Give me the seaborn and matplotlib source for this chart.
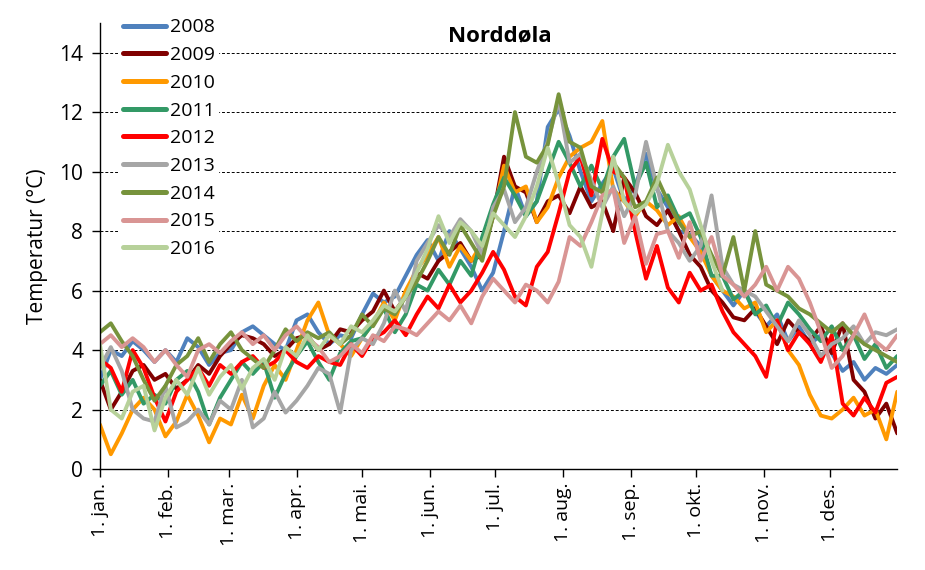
import numpy as np
import pandas as pd
import matplotlib
matplotlib.use("Agg")
import matplotlib.pyplot as plt
import seaborn as sns

days = list(range(0, 366, 5))

t2008 = [3.0, 4.0, 3.8, 4.3, 4.0, 3.6, 4.0, 3.6, 4.4, 4.1, 3.5, 3.9, 4.0, 4.6, 4.8,
         4.5, 4.2, 4.0, 5.0, 5.2, 4.6, 4.2, 4.5, 4.4, 5.2, 5.9, 5.6, 5.8, 6.5, 7.2,
         7.7, 7.0, 8.0, 7.4, 6.8, 6.0, 6.6, 8.0, 9.5, 8.5, 9.0, 11.5, 12.1, 11.2, 10.0,
         9.0, 9.6, 10.1, 9.0, 9.5, 10.6, 9.4, 8.8, 8.0, 7.9, 7.5, 6.5, 6.0, 5.5, 6.0,
         5.3, 4.8, 5.2, 4.3, 4.8, 4.2, 4.5, 3.9, 3.3, 3.6, 3.0, 3.4, 3.2, 3.5]
t2009 = [3.0, 2.0, 2.6, 3.3, 3.5, 3.0, 3.2, 2.7, 3.0, 3.5, 3.2, 3.8, 4.2, 4.5, 4.4,
         4.2, 3.8, 4.0, 4.4, 4.5, 4.0, 4.2, 4.7, 4.6, 5.0, 5.3, 6.0, 5.3, 5.8, 6.6,
         6.4, 7.0, 7.3, 7.6, 7.0, 7.2, 8.5, 10.5, 9.5, 9.3, 8.3, 9.0, 9.2, 8.6, 9.5,
         8.8, 9.0, 8.0, 9.8, 9.3, 8.5, 8.2, 8.7, 8.0, 7.2, 6.8, 6.0, 5.6, 5.1, 5.0,
         5.4, 4.8, 4.2, 5.0, 4.6, 4.3, 4.8, 3.9, 4.9, 3.0, 2.6, 1.7, 2.2, 1.2]
t2010 = [1.5, 0.5, 1.2, 2.0, 2.4, 2.0, 1.1, 1.6, 2.5, 1.8, 0.9, 1.7, 1.5, 2.5, 1.7,
         2.8, 3.5, 3.0, 4.0, 5.0, 5.6, 4.5, 4.2, 3.8, 4.4, 4.9, 5.6, 5.0, 6.0, 6.7,
         7.2, 7.8, 6.8, 7.5, 7.0, 7.6, 8.5, 10.2, 9.3, 9.5, 8.3, 8.8, 9.8, 10.5, 10.8,
         11.0, 11.7, 9.4, 9.0, 8.5, 9.0, 8.7, 8.2, 8.5, 7.8, 7.3, 6.5, 6.0, 5.8, 5.4,
         5.6, 4.6, 5.0, 4.0, 3.5, 2.5, 1.8, 1.7, 2.0, 2.4, 1.8, 2.0, 1.0, 2.6]
t2011 = [2.8, 3.3, 2.5, 3.0, 2.2, 2.5, 2.2, 3.0, 3.3, 2.6, 1.5, 2.4, 3.0, 3.6, 3.2,
         3.6, 2.4, 3.2, 3.8, 4.3, 3.6, 3.0, 3.9, 4.3, 4.4, 4.9, 5.4, 4.6, 5.2, 6.2,
         6.0, 6.7, 6.2, 7.0, 6.5, 7.8, 8.9, 9.8, 9.2, 8.5, 9.0, 10.0, 11.0, 10.3, 9.5,
         10.2, 9.4, 10.5, 11.1, 9.5, 10.3, 8.8, 9.2, 8.4, 8.6, 7.8, 6.5, 6.5, 5.7, 6.0,
         5.2, 5.5, 4.8, 5.6, 5.2, 4.7, 4.3, 4.8, 4.0, 4.5, 3.7, 4.2, 3.4, 3.8]
t2012 = [3.7, 3.4, 2.6, 4.0, 3.4, 2.4, 1.6, 2.6, 3.0, 3.4, 2.8, 3.5, 3.2, 3.6, 3.8,
         3.4, 3.6, 4.0, 3.6, 3.4, 3.8, 3.6, 3.5, 4.2, 3.8, 4.4, 4.6, 5.0, 4.5, 5.2,
         5.8, 5.4, 6.2, 5.6, 6.0, 6.6, 7.3, 6.7, 5.8, 5.5, 6.8, 7.3, 8.6, 10.0, 10.5,
         9.2, 11.1, 10.0, 9.8, 8.0, 6.4, 7.5, 6.1, 5.6, 6.6, 6.0, 6.2, 5.3, 4.6, 4.2,
         3.8, 3.1, 5.0, 4.0, 4.6, 4.2, 3.6, 4.5, 2.2, 1.8, 2.4, 1.9, 2.9, 3.1]
t2013 = [3.4, 4.1, 3.3, 2.0, 1.7, 1.6, 2.8, 1.4, 1.6, 2.0, 1.5, 2.3, 2.0, 3.0, 1.4,
         1.7, 2.6, 1.9, 2.3, 2.8, 3.4, 3.2, 1.9, 4.0, 4.4, 4.2, 4.9, 6.0, 5.3, 7.0,
         7.6, 8.2, 7.8, 8.4, 8.0, 7.2, 8.8, 9.4, 8.3, 8.8, 10.0, 11.0, 12.4, 10.3, 10.6,
         9.7, 8.8, 9.5, 8.5, 9.2, 11.0, 9.5, 8.0, 7.6, 7.0, 7.5, 9.2, 6.8, 6.2, 6.0,
         5.8, 5.3, 4.8, 4.3, 5.0, 4.5, 3.8, 4.2, 4.4, 4.8, 4.2, 4.6, 4.5, 4.7]
t2014 = [4.6, 4.9, 4.3, 3.8, 3.0, 2.3, 2.8, 3.5, 3.8, 4.4, 3.6, 4.2, 4.6, 4.0, 3.7,
         3.4, 4.0, 4.7, 4.3, 4.6, 4.4, 4.6, 4.2, 4.5, 5.2, 4.8, 5.4, 5.2, 5.8, 6.3,
         7.0, 7.8, 7.2, 8.2, 7.6, 7.0, 8.5, 9.5, 12.0, 10.5, 10.3, 10.9, 12.6, 11.0, 10.8,
         9.5, 9.3, 10.3, 9.8, 8.8, 9.0, 9.8, 9.0, 8.3, 7.8, 8.0, 7.2, 6.5, 7.8, 6.0,
         8.0, 6.2, 6.0, 5.8, 5.4, 5.2, 4.9, 4.6, 4.9, 4.5, 4.2, 4.0, 3.8, 3.6]
t2015 = [4.2, 4.5, 4.1, 4.4, 4.1, 3.6, 4.0, 3.5, 3.1, 4.0, 4.2, 3.9, 4.3, 4.6, 4.2,
         4.5, 4.0, 4.5, 4.8, 4.4, 4.1, 3.6, 3.8, 4.2, 3.9, 4.5, 4.3, 4.8, 4.7, 4.5,
         4.9, 5.3, 5.0, 5.5, 4.9, 5.8, 6.4, 6.0, 5.6, 6.2, 6.0, 5.6, 6.3, 7.8, 7.5,
         8.3, 9.2, 9.4, 7.6, 8.5, 6.9, 7.9, 8.0, 7.1, 8.3, 7.0, 7.8, 6.5, 6.2, 5.8,
         6.2, 6.8, 6.0, 6.8, 6.4, 5.6, 4.6, 3.4, 3.8, 4.5, 5.2, 4.3, 4.0, 4.5]
t2016 = [4.2, 2.0, 1.7, 2.6, 2.8, 1.3, 2.4, 3.0, 2.5, 3.4, 2.5, 3.1, 3.5, 2.7, 3.4,
         3.7, 3.0, 4.1, 3.8, 4.5, 4.0, 4.5, 4.2, 4.8, 4.6, 5.0, 5.5, 5.3, 5.8, 6.6,
         7.4, 8.5, 7.6, 8.3, 8.0, 7.5, 8.6, 8.2, 7.8, 8.5, 9.5, 10.8, 9.6, 8.2, 7.8,
         6.8, 8.6, 10.5, 9.0, 8.6, 8.9, 9.6, 10.9, 10.0, 9.4, 8.2, 7.0, 6.0]

series = {"2008": t2008, "2009": t2009, "2010": t2010, "2011": t2011, "2012": t2012,
          "2013": t2013, "2014": t2014, "2015": t2015, "2016": t2016}
colors = ["#4F81BD", "#800000", "#FF9900", "#339966", "#FF0000",
          "#A6A6A6", "#77933C", "#D99594", "#B7D19A"]

month_days = [0, 31, 59, 90, 120, 151, 181, 212, 243, 273, 304, 334]
month_labels = ["1. jan.", "1. feb.", "1. mar.", "1. apr.", "1. mai.", "1. jun.",
                "1. jul.", "1. aug.", "1. sep.", "1. okt.", "1. nov.", "1. des."]

rows = []
for yr, vals in series.items():
    for d, v in zip(days, vals):
        rows.append({"dag": d, "temp": v, "aar": yr})
df = pd.DataFrame(rows)

sns.set_style("white")
plt.rcParams["font.family"] = ["Open Sans", "DejaVu Sans"]
plt.rcParams["text.color"] = "black"
plt.rcParams["axes.labelcolor"] = "black"
plt.rcParams["xtick.color"] = "black"
plt.rcParams["ytick.color"] = "black"

fig = plt.figure(figsize=(9.25, 5.7), dpi=100)
ax = fig.add_axes([0.108, 0.177, 0.862, 0.783])

sns.lineplot(data=df, x="dag", y="temp", hue="aar", palette=colors,
             linewidth=2.8, ax=ax, legend=False)

for y in range(2, 16, 2):
    ax.axhline(y, color="black", linestyle=(0, (3, 2)), linewidth=0.7, zorder=0)

ax.set_xlim(0, 365)
ax.set_ylim(0, 15)
ax.set_yticks(range(0, 15, 2))
ax.set_xticks(month_days)
ax.set_xticklabels(month_labels, rotation=90, fontsize=14)
ax.tick_params(axis="y", labelsize=15, direction="out", length=6, width=1, left=True, pad=6)
ax.tick_params(axis="x", direction="out", length=6, width=1, bottom=True, pad=4)
for s in ["top", "right"]:
    ax.spines[s].set_visible(False)
for s in ["left", "bottom"]:
    ax.spines[s].set_color("black")
    ax.spines[s].set_linewidth(1)

ax.set_xlabel("")
ax.set_ylabel("Temperatur (°C)", fontsize=15, labelpad=8)
fig.text(500 / 925, 1 - 36 / 570, "Norddøla", ha="center", va="center",
         fontsize=16, fontweight="bold")

handles = [plt.Line2D([], [], color=c, linewidth=3.6) for c in colors]
leg = fig.legend(handles, list(series.keys()), loc="upper left",
                 bbox_to_anchor=(119 / 925, 1 - 14.5 / 570), frameon=True, fontsize=14,
                 handlelength=2.2, handletextpad=0.2, labelspacing=0.5,
                 borderpad=0.2, borderaxespad=0)
leg.get_frame().set_edgecolor("white")
leg.get_frame().set_facecolor("white")
leg.get_frame().set_alpha(1)
leg.get_frame().set_boxstyle("square", pad=0)

fig.savefig("out.png", dpi=100)
